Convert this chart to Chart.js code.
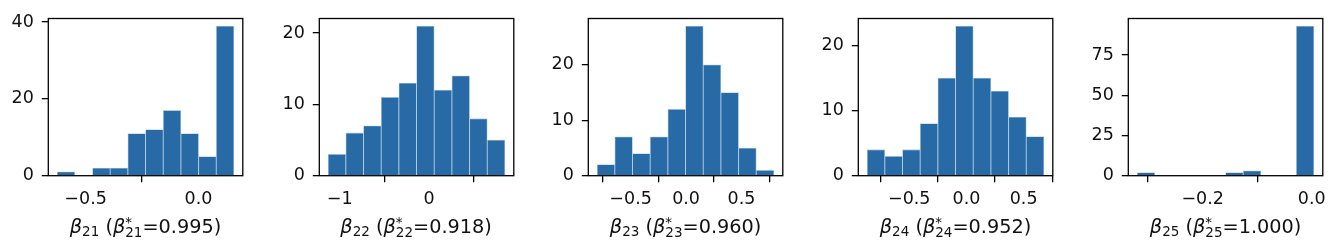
<!DOCTYPE html>
<html>
<head>
<meta charset="utf-8">
<script src="https://cdn.jsdelivr.net/npm/chart.js@4.4.0/dist/chart.umd.min.js"></script>
<style>
  body { margin: 0; background: #fff; }
  #wrap { position: relative; width: 1339px; height: 251px; overflow: hidden; }
  .box { position: absolute; top: 0; width: 270px; height: 251px; }
  .lbl {
    position: absolute; top: 214.6px; width: 260px; text-align: center;
    font-family: "DejaVu Sans", sans-serif; font-size: 19.3px; line-height: 24px;
    color: #111; white-space: nowrap;
  }
  .lbl i { font-style: oblique; }
  .lbl sub { font-size: 0.7em; vertical-align: -0.25em; line-height: 0; }
  .st { display: inline-block; vertical-align: -0.35em; font-size: 0.7em; line-height: 0.8em; text-align: left; }
  .st span { display: block; }
</style>
</head>
<body>
<div id="wrap"></div>
<script>
// histogram bins (equal width): range of the 10 bins per panel
const names = ["21", "22", "23", "24", "25"];
const stars = ["0.995", "0.918", "0.960", "0.952", "1.000"];
const binStart = [-0.626, -1.130, -0.802, -0.868, -0.320];
const binEnd = [0.157, 0.851, 0.793, 0.678, 0.004];

const counts21 = [1, 0, 2, 2, 11, 12, 17, 11, 5, 39];
const counts22 = [3, 6, 7, 11, 13, 21, 12, 14, 8, 5];
const counts23 = [2, 7, 4, 7, 12, 27, 20, 15, 5, 1];
const counts24 = [4, 3, 4, 8, 15, 23, 15, 13, 9, 6];
const counts25 = [2, 0, 0, 0, 0, 2, 3, 0, 0, 93];
const allCounts = [counts21, counts22, counts23, counts24, counts25];

const xTicks = [[-0.5, 0], [-1, 0], [-0.5, 0, 0.5], [-0.5, 0, 0.5], [-0.2, 0]];
const xTickLabels = [["−0.5", "0.0"], ["−1", "0"], ["−0.5", "0.0", "0.5"], ["−0.5", "0.0", "0.5"], ["−0.2", "0.0"]];
const yTicks = [[0, 20, 40], [0, 10, 20], [0, 10, 20], [0, 10, 20], [0, 25, 50, 75]];

const plotLeft = [48.3, 318.9, 588.4, 858.3, 1128.4];
const plotW = 194.5;
const axW = 48.3;

// draw the four spines
const spines = {
  id: "spines",
  afterDraw(chart) {
    const a = chart.chartArea, ctx = chart.ctx;
    ctx.save();
    ctx.strokeStyle = "#000";
    ctx.lineWidth = 1.3;
    ctx.strokeRect(a.left, a.top, a.right - a.left, a.bottom - a.top);
    ctx.restore();
  }
};

const wrap = document.getElementById("wrap");
const font = { family: "DejaVu Sans", size: 17.5 };

allCounts.forEach((counts, i) => {
  const n = counts.length;
  const w = (binEnd[i] - binStart[i]) / n;
  const pts = counts.map((c, k) => ({ x: binStart[i] + (k + 0.5) * w, y: c }));
  const pad = 0.05 * (binEnd[i] - binStart[i]);
  const ymax = 1.05 * Math.max(...counts);

  const box = document.createElement("div");
  box.className = "box";
  box.style.left = (plotLeft[i] - axW) + "px";
  const cv = document.createElement("canvas");
  box.appendChild(cv);
  wrap.appendChild(box);

  const lbl = document.createElement("div");
  lbl.className = "lbl";
  lbl.style.left = (plotLeft[i] + plotW / 2 - 130) + "px";
  lbl.innerHTML = "<i>β</i><sub>" + names[i] + "</sub> (<i>β</i><span class='st'><span>*</span><span>" +
    names[i] + "</span></span>=" + stars[i] + ")";
  wrap.appendChild(lbl);

  new Chart(cv, {
    type: "bar",
    data: {
      datasets: [{
        data: pts,
        backgroundColor: "#276aa6",
        borderColor: "rgba(160,195,225,0.8)",
        borderWidth: 0.8,
        barPercentage: 1,
        categoryPercentage: 1
      }]
    },
    options: {
      responsive: true,
      maintainAspectRatio: false,
      animation: false,
      layout: { padding: { left: 0, top: 12.7, right: 270 - axW - plotW, bottom: 0 } },
      plugins: { legend: { display: false }, tooltip: { enabled: false } },
      scales: {
        x: {
          type: "linear",
          offset: false,
          min: binStart[i] - pad,
          max: binEnd[i] + pad,
          afterFit(s) { s.height = 251 - 175.7; },
          afterBuildTicks(s) { s.ticks = xTicks[i].map(v => ({ value: v })); },
          ticks: {
            font: font, color: "#111", padding: 7, maxRotation: 0, autoSkip: false,
            callback(v, k) { return xTickLabels[i][k]; }
          },
          grid: { drawOnChartArea: false, color: "#000", lineWidth: 1.3, tickLength: 6.5 },
          border: { display: false }
        },
        y: {
          min: 0,
          max: ymax,
          afterFit(s) { s.width = axW; },
          afterBuildTicks(s) { s.ticks = yTicks[i].map(v => ({ value: v })); },
          ticks: { font: font, color: "#111", padding: 8 },
          grid: { drawOnChartArea: false, color: "#000", lineWidth: 1.3, tickLength: 6.5 },
          border: { display: false }
        }
      }
    },
    plugins: [spines]
  });
});
</script>
</body>
</html>
